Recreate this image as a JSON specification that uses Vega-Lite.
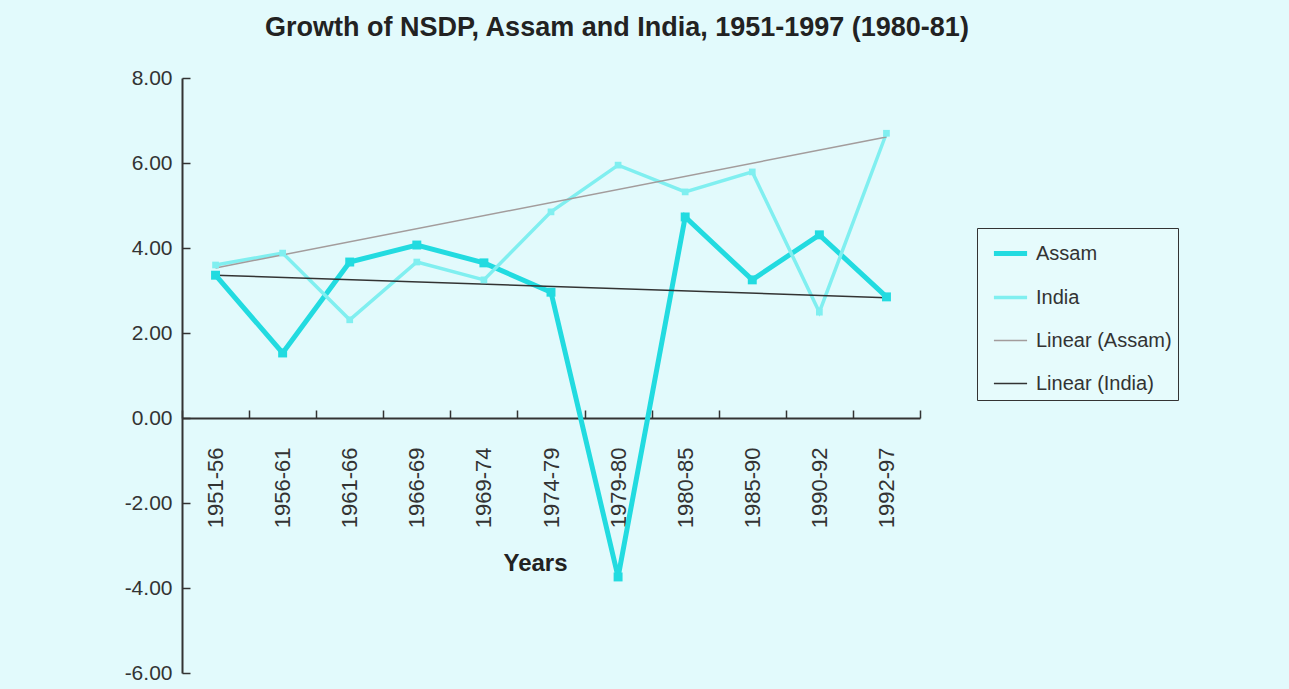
{
  "$schema": "https://vega.github.io/schema/vega-lite/v6.json",
  "width": 738,
  "height": 595,
  "autosize": {"type": "none"},
  "padding": {"left": 182, "top": 78, "right": 369, "bottom": 16},
  "background": "#e2fafc",
  "config": {"view": {"stroke": null}, "font": "Liberation Sans"},
  "title": {
    "text": "Growth of NSDP, Assam and India, 1951-1997 (1980-81)",
    "fontSize": 27,
    "font": "Liberation Sans",
    "fontWeight": "bold",
    "color": "#222222",
    "anchor": "middle",
    "dx": 66,
    "offset": 25
  },
  "data": {
    "values": [
      {"period": "1951-56", "series": "Assam", "value": 3.36},
      {"period": "1956-61", "series": "Assam", "value": 1.53},
      {"period": "1961-66", "series": "Assam", "value": 3.67},
      {"period": "1966-69", "series": "Assam", "value": 4.07},
      {"period": "1969-74", "series": "Assam", "value": 3.65},
      {"period": "1974-79", "series": "Assam", "value": 2.96},
      {"period": "1979-80", "series": "Assam", "value": -3.74},
      {"period": "1980-85", "series": "Assam", "value": 4.73},
      {"period": "1985-90", "series": "Assam", "value": 3.25},
      {"period": "1990-92", "series": "Assam", "value": 4.31},
      {"period": "1992-97", "series": "Assam", "value": 2.85},
      {"period": "1951-56", "series": "India", "value": 3.6},
      {"period": "1956-61", "series": "India", "value": 3.88},
      {"period": "1961-66", "series": "India", "value": 2.31},
      {"period": "1966-69", "series": "India", "value": 3.67},
      {"period": "1969-74", "series": "India", "value": 3.25},
      {"period": "1974-79", "series": "India", "value": 4.85},
      {"period": "1979-80", "series": "India", "value": 5.95},
      {"period": "1980-85", "series": "India", "value": 5.32},
      {"period": "1985-90", "series": "India", "value": 5.79},
      {"period": "1990-92", "series": "India", "value": 2.49},
      {"period": "1992-97", "series": "India", "value": 6.7},
      {"period": "1951-56", "series": "Linear (Assam)", "value": 3.53},
      {"period": "1992-97", "series": "Linear (Assam)", "value": 6.61},
      {"period": "1951-56", "series": "Linear (India)", "value": 3.36},
      {"period": "1992-97", "series": "Linear (India)", "value": 2.83}
    ]
  },
  "encoding": {
    "x": {
      "field": "period",
      "type": "ordinal",
      "sort": ["1951-56","1956-61","1961-66","1966-69","1969-74","1974-79","1979-80","1980-85","1985-90","1990-92","1992-97"],
      "scale": {"paddingInner": 0, "paddingOuter": 0},
      "title": "Years",
      "axis": {
        "offset": -255,
        "tickBand": "extent",
        "labelAngle": -90,
        "labelAlign": "right",
        "labelBaseline": "middle",
        "labelPadding": 37,
        "tickSize": -8,
        "tickColor": "#333333",
        "tickWidth": 1.5,
        "domainColor": "#333333",
        "domainWidth": 2,
        "labelFont": "Liberation Sans",
        "labelFontSize": 22,
        "labelColor": "#333333",
        "titleFont": "Liberation Sans",
        "titleFontSize": 24,
        "titleFontWeight": "bold",
        "titleColor": "#222222",
        "titlePadding": 24,
        "titleX": 353,
        "grid": false
      }
    },
    "y": {
      "field": "value",
      "type": "quantitative",
      "scale": {"domain": [-6, 8], "nice": false, "zero": false},
      "title": null,
      "axis": {
        "values": [-6, -4, -2, 0, 2, 4, 6, 8],
        "labelExpr": "replace(format(datum.value, '.2f'), '\u2212', '-')",
        "tickSize": -8,
        "tickColor": "#333333",
        "tickWidth": 1.5,
        "domainColor": "#333333",
        "domainWidth": 2,
        "labelPadding": 18,
        "labelFont": "Liberation Sans",
        "labelFontSize": 21,
        "labelColor": "#333333",
        "grid": false
      }
    },
    "color": {
      "field": "series",
      "type": "nominal",
      "scale": {
        "domain": ["Assam", "India", "Linear (Assam)", "Linear (India)"],
        "range": ["#22dbe0", "#80eff0", "#a39c9c", "#333333"]
      },
      "legend": {
        "title": null,
        "orient": "none",
        "legendX": 795,
        "legendY": 150,
        "symbolType": "stroke",
        "symbolSize": 1100,
        "symbolStrokeWidth": 2,
        "symbolOffset": 8,
        "rowPadding": 15,
        "padding": 6,
        "labelOffset": 6,
        "labelFont": "Liberation Sans",
        "labelFontSize": 20,
        "labelColor": "#333333",
        "labelLimit": 300,
        "strokeColor": "#333333",
        "fillColor": "#e6fbfc",
        "encode": {
          "symbols": {
            "update": {
              "strokeWidth": [
                {"test": "datum.value === 'Assam'", "value": 5},
                {"test": "datum.value === 'India'", "value": 3.5},
                {"value": 1.5}
              ]
            }
          }
        }
      }
    }
  },
  "layer": [
    {
      "mark": {"type": "line"},
      "encoding": {
        "strokeWidth": {
          "field": "series",
          "type": "nominal",
          "scale": {
            "type": "ordinal",
            "domain": ["Assam", "India", "Linear (Assam)", "Linear (India)"],
            "range": [5, 3.5, 1.5, 1.5]
          },
          "legend": null
        }
      }
    },
    {
      "transform": [{"filter": "datum.series === 'Assam' || datum.series === 'India'"}],
      "mark": {"type": "point", "shape": "square", "filled": true, "opacity": 1},
      "encoding": {
        "size": {
          "field": "series",
          "type": "nominal",
          "scale": {"type": "ordinal", "domain": ["Assam", "India"], "range": [80, 45]},
          "legend": null
        }
      }
    }
  ]
}
